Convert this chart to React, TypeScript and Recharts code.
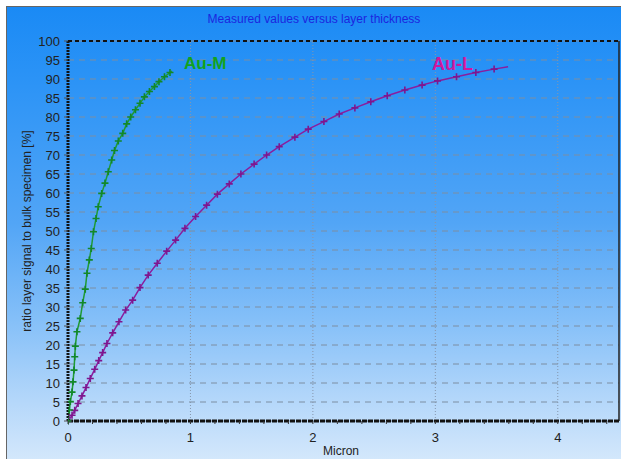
import { LineChart, Line, XAxis, YAxis, CartesianGrid, ReferenceLine } from "recharts";

// Au-M (green) readings: layer thickness [micron] / ratio [%]
const auMThickness = [
  0, 0.011, 0.019, 0.033, 0.041, 0.049, 0.055, 0.06, 0.073, 0.1, 0.12, 0.141, 0.155, 0.174, 0.19,
  0.208, 0.229, 0.247, 0.275, 0.302, 0.329, 0.357, 0.38, 0.411, 0.447, 0.479, 0.512, 0.551, 0.588,
  0.624, 0.665, 0.706, 0.743, 0.788, 0.833, 0.849,
];
const auMRatio = [
  0, 2.9, 5.1, 7.6, 10.3, 13.4, 16.9, 19.7, 23.5, 27.0, 31.1, 34.7, 38.9, 42.4, 45.4,
  49.8, 53.3, 56.4, 59.9, 62.6, 65.6, 68.7, 71.2, 73.7, 75.7, 78.2, 80.0, 81.9, 83.6,
  85.3, 86.7, 88.0, 89.3, 90.6, 91.7, 92.1,
];

// Au-L (purple) readings
const auLThickness = [
  0, 0.033, 0.055, 0.082, 0.114, 0.147, 0.182, 0.218, 0.251, 0.283, 0.318, 0.365, 0.416, 0.471,
  0.528, 0.588, 0.655, 0.729, 0.806, 0.879, 0.955, 1.042, 1.132, 1.22, 1.317, 1.412, 1.52, 1.622,
  1.725, 1.853, 1.962, 2.09, 2.215, 2.343, 2.473, 2.607, 2.751, 2.892, 3.018, 3.173, 3.331, 3.48, 3.594,
];
const auLRatio = [
  0, 1.5, 2.8, 4.6, 6.6, 8.8, 11.2, 13.6, 15.9, 18.0, 20.4, 23.2, 26.1, 29.2,
  31.8, 35.1, 38.4, 41.5, 44.7, 47.6, 50.7, 53.8, 56.8, 59.7, 62.4, 65.0, 67.6, 70.0,
  72.2, 74.7, 76.8, 78.8, 80.8, 82.4, 84.0, 85.6, 87.1, 88.4, 89.5, 90.6, 91.7, 92.6, 93.2,
];

const xTicks = [0, 0.2, 0.4, 0.6, 0.8, 1, 1.2, 1.4, 1.6, 1.8, 2, 2.2, 2.4, 2.6, 2.8, 3, 3.2, 3.4, 3.6, 3.8, 4, 4.2, 4.4];
const xMajor = [1, 2, 3, 4];
const yTicks = [0, 5, 10, 15, 20, 25, 30, 35, 40, 45, 50, 55, 60, 65, 70, 75, 80, 85, 90, 95, 100];

const auM = auMThickness.map((x, i) => ({ x, y: auMRatio[i] }));
const auL = auLThickness.map((x, i) => ({ x, y: auLRatio[i] }));

const font = "'Liberation Sans', Arial, sans-serif";

const plusDot = (color: string, last: number) => (props: any) => {
  const { cx, cy, index } = props;
  if (cx == null || cy == null || index === last) return <g key={index} />;
  return (
    <path
      key={index}
      d={`M${cx - 3.5},${cy}h7M${cx},${cy - 3.5}v7`}
      stroke={color}
      strokeWidth={1.6}
      fill="none"
    />
  );
};

const XTick = (props: any) => {
  const { x, y, payload } = props;
  const v = payload.value;
  const major = Math.abs(v - Math.round(v)) < 1e-6;
  return (
    <g>
      <line x1={x} y1={y} x2={x} y2={y + 3} stroke="#333" strokeWidth={1} />
      {major && (
        <text x={x} y={y + 21} textAnchor="middle" fill="#222" fontSize={13} fontFamily={font}>
          {v}
        </text>
      )}
    </g>
  );
};

export default function App() {
  return (
    <div style={{ position: "fixed", left: 0, top: 0, width: 621, height: 459, overflow: "hidden", background: "#fff" }}>
      <div
        style={{
          position: "absolute",
          left: 6,
          top: 6,
          width: 640,
          height: 480,
          borderLeft: "1px solid #666",
          borderTop: "1px solid #666",
          background:
            "linear-gradient(to bottom, #1a8af5 0%, #2b93f6 15%, #52a5f6 45%, #84bff8 65%, #b4d7fa 82%, #e2effc 100%)",
        }}
      />
      <div
        style={{
          position: "absolute",
          left: 0,
          top: 12,
          width: 628,
          textAlign: "center",
          fontFamily: font,
          fontSize: 12,
          color: "#1c26e0",
        }}
      >
        Measured values versus layer thickness
      </div>
      <div
        style={{
          position: "absolute",
          left: 27,
          top: 231,
          transform: "translate(-50%, -50%) rotate(-90deg)",
          whiteSpace: "nowrap",
          fontFamily: font,
          fontSize: 12,
          color: "#222",
        }}
      >
        ratio layer signal to bulk specimen [%]
      </div>
      <div style={{ position: "absolute", left: 0, top: 444, width: 682, textAlign: "center", fontFamily: font, fontSize: 12, lineHeight: "14px", color: "#222" }}>
        Micron
      </div>
      <div style={{ position: "absolute" as const, left: 0, top: 0 }}>
        <LineChart width={621} height={459} margin={{ top: 41, right: 2, bottom: 0, left: 0 }}>
          <CartesianGrid vertical={false} stroke="#7d8ea2" strokeDasharray="6 5" strokeWidth={1} />
          {xMajor.map((v) => (
            <ReferenceLine key={v} x={v} stroke="#8596ac" strokeDasharray="1 2" strokeWidth={1} />
          ))}
          <ReferenceLine y={100} stroke="#111" strokeDasharray="4 3" strokeWidth={2} />
          <ReferenceLine x={4.5} stroke="#222" strokeWidth={1.5} />
          <XAxis
            type="number"
            dataKey="x"
            domain={[0, 4.5]}
            ticks={xTicks}
            interval={0}
            allowDataOverflow
            tickSize={0}
            tickMargin={0}
            tickLine={false}
            tick={<XTick />}
            axisLine={{ stroke: "#111", strokeWidth: 3, strokeDasharray: "5 1" }}
            height={38}
          />
          <YAxis
            type="number"
            dataKey="y"
            domain={[0, 100]}
            ticks={yTicks}
            interval={0}
            width={68}
            tickSize={4}
            tickMargin={4}
            tickLine={{ stroke: "#555" }}
            tick={{ fill: "#222", fontSize: 13, fontFamily: font }}
            axisLine={{ stroke: "#111", strokeWidth: 3, strokeDasharray: "2 1" }}
          />
          <Line
            data={auL}
            dataKey="y"
            type="linear"
            stroke="#8a1e9e"
            strokeWidth={1.5}
            dot={plusDot("#7e168e", auL.length - 1)}
            activeDot={false}
            isAnimationActive={false}
          />
          <Line
            data={auM}
            dataKey="y"
            type="linear"
            stroke="#1f9a34"
            strokeWidth={1.5}
            dot={plusDot("#12882a", auM.length - 1)}
            activeDot={false}
            isAnimationActive={false}
          />
        </LineChart>
      </div>
      <div style={{ position: "absolute", left: 184, top: 55, fontFamily: font, fontWeight: "bold", fontSize: 17, lineHeight: 1, color: "#12a21e" }}>
        Au-M
      </div>
      <div style={{ position: "absolute", left: 432, top: 55, fontFamily: font, fontWeight: "bold", fontSize: 18, lineHeight: 1, color: "#d0169e" }}>
        Au-L
      </div>
    </div>
  );
}
